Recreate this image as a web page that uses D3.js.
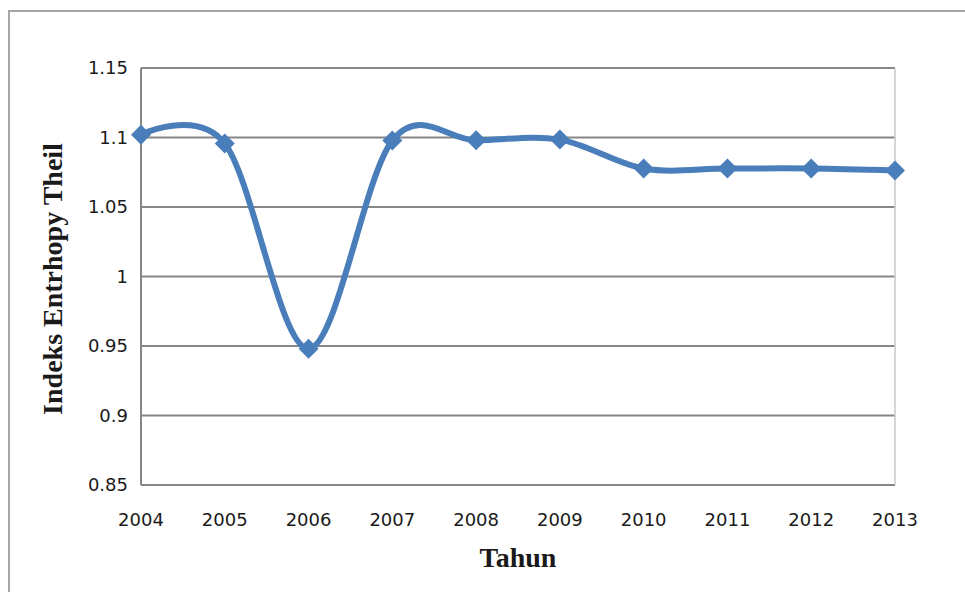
<!DOCTYPE html>
<html>
<head>
<meta charset="utf-8">
<script src="https://cdn.jsdelivr.net/npm/d3@7"></script>
<style>
  body { margin: 0; background: #fff; }
  svg text { fill: #1a1a1a; }
</style>
</head>
<body>
<div id="chart"></div>
<script>
var years = ["2004","2005","2006","2007","2008","2009","2010","2011","2012","2013"];
var theil = [1.102, 1.0957, 0.948, 1.0978, 1.098, 1.0985, 1.0777, 1.0777, 1.0777, 1.0763];
var yTicks = [0.85, 0.9, 0.95, 1, 1.05, 1.1, 1.15];

var width = 965,
    height = 592;
var margin = {top: 68, right: 70, bottom: 107, left: 141};

var svg = d3.select("#chart").append("svg")
    .attr("width", width)
    .attr("height", height);

// outer frame of the chart object
svg.append("rect")
    .attr("x", 9).attr("y", 11)
    .attr("width", width + 20).attr("height", height + 20)
    .attr("fill", "none")
    .attr("stroke", "#a6a6a6")
    .attr("stroke-width", 2);

var x = d3.scalePoint().domain(years).range([margin.left, width - margin.right]);
var y = d3.scaleLinear().domain([0.85, 1.15]).range([height - margin.bottom, margin.top]);

// gridlines
svg.append("g").selectAll("line")
    .data(yTicks)
  .enter().append("line")
    .attr("x1", margin.left).attr("x2", width - margin.right)
    .attr("y1", function(d) { return y(d); })
    .attr("y2", function(d) { return y(d); })
    .attr("stroke", "#868686")
    .attr("stroke-width", 2);

// left axis line + right edge
svg.append("line")
    .attr("x1", margin.left).attr("x2", margin.left)
    .attr("y1", y(1.15)).attr("y2", y(0.85))
    .attr("stroke", "#868686").attr("stroke-width", 2);
svg.append("line")
    .attr("x1", width - margin.right).attr("x2", width - margin.right)
    .attr("y1", y(1.15)).attr("y2", y(0.85))
    .attr("stroke", "#c8c8c8").attr("stroke-width", 1.5);

// y tick labels
svg.append("g").selectAll("text")
    .data(yTicks)
  .enter().append("text")
    .attr("x", margin.left - 13)
    .attr("y", function(d) { return y(d); })
    .attr("dy", "0.35em")
    .attr("text-anchor", "end")
    .style("font-family", "'DejaVu Sans', Verdana, sans-serif")
    .style("font-size", "18px")
    .text(function(d) { return d3.format("")(d); });

// x tick labels
svg.append("g").selectAll("text")
    .data(years)
  .enter().append("text")
    .attr("x", function(d) { return x(d); })
    .attr("y", height - margin.bottom + 41)
    .attr("text-anchor", "middle")
    .style("font-family", "'DejaVu Sans', Verdana, sans-serif")
    .style("font-size", "18px")
    .text(function(d) { return d; });

// axis titles
svg.append("text")
    .attr("x", 518).attr("y", 567)
    .attr("text-anchor", "middle")
    .style("font-family", "'Liberation Serif', 'Times New Roman', serif")
    .style("font-weight", "bold")
    .style("font-size", "28px")
    .text("Tahun");

svg.append("text")
    .attr("transform", "translate(62,279) rotate(-90)")
    .attr("text-anchor", "middle")
    .style("font-family", "'Liberation Serif', 'Times New Roman', serif")
    .style("font-weight", "bold")
    .style("font-size", "28px")
    .text("Indeks Entrhopy Theil");

// smoothed series line
var pts = years.map(function(d, i) { return [x(d), y(theil[i])]; });
var line = d3.line().curve(d3.curveCatmullRom.alpha(0));

svg.append("path")
    .attr("d", line(pts))
    .attr("fill", "none")
    .attr("stroke", "#4a7ebb")
    .attr("stroke-width", 6)
    .attr("stroke-linejoin", "round");

// diamond markers
svg.append("g").selectAll("path")
    .data(pts)
  .enter().append("path")
    .attr("transform", function(d) { return "translate(" + d[0] + "," + d[1] + ")"; })
    .attr("d", "M0,-10L10,0L0,10L-10,0Z")
    .attr("fill", "#4a7ebb");
</script>
</body>
</html>
